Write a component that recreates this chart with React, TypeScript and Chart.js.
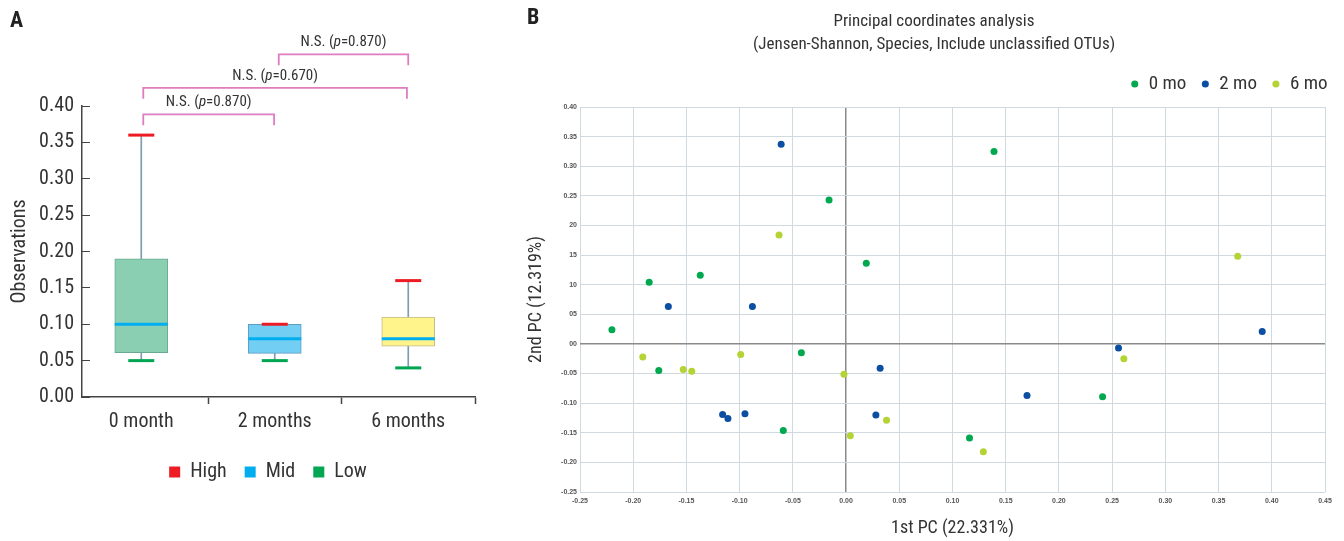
import React, { useEffect, useRef } from 'react';
import { Chart, registerables } from 'chart.js';

Chart.register(...registerables);

const FONT = "'Liberation Sans Narrow', 'Roboto Condensed', 'DejaVu Sans Condensed', 'Liberation Sans', sans-serif";

// ---------- Panel A data ----------
const categories = ['0 month', '2 months', '6 months'];
const lowValues = [0.05, 0.05, 0.04];
const q1Values = [0.061, 0.06, 0.07];
const medianValues = [0.10, 0.08, 0.08];
const q3Values = [0.19, 0.10, 0.11];
const highValues = [0.36, 0.10, 0.16];
const yTicksA = [0, 0.05, 0.1, 0.15, 0.2, 0.25, 0.3, 0.35, 0.4];
const xTicksA = [0, 0.5, 1, 1.5, 2, 2.5];
const bracketFrom = [0.015, 0.015, 1.03];
const bracketTo = [0.995, 1.99, 2.0];
const bracketLevel = [0.3885, 0.425, 0.471];
const bracketP = ['0.870', '0.670', '0.870'];

// ---------- Panel B data ----------
const mo0X = [-0.220, -0.185, -0.137, -0.176, -0.042, -0.059, -0.016, 0.019, 0.139, 0.116, 0.241];
const mo0Y = [0.024, 0.104, 0.116, -0.045, -0.015, -0.146, 0.243, 0.136, 0.325, -0.159, -0.089];
const mo2X = [-0.061, -0.167, -0.088, -0.116, -0.111, -0.095, 0.032, 0.028, 0.170, 0.256, 0.391];
const mo2Y = [0.337, 0.063, 0.063, -0.119, -0.126, -0.118, -0.041, -0.120, -0.087, -0.007, 0.021];
const mo6X = [-0.063, -0.191, -0.153, -0.145, -0.099, -0.002, 0.004, 0.038, 0.129, 0.261, 0.368];
const mo6Y = [0.184, -0.022, -0.043, -0.046, -0.018, -0.051, -0.155, -0.129, -0.182, -0.025, 0.148];
const xTickValuesB = [-0.25, -0.2, -0.15, -0.1, -0.05, 0, 0.05, 0.1, 0.15, 0.2, 0.25, 0.3, 0.35, 0.4, 0.45];
const xTickLabelsB = ['-0.25', '-0.20', '-0.15', '-0.10', '-0.05', '0.00', '0.05', '0.10', '0.15', '0.20', '0.25', '0.30', '0.35', '0.40', '0.45'];
const yTickValuesB = [-0.25, -0.2, -0.15, -0.1, -0.05, 0, 0.05, 0.1, 0.15, 0.2, 0.25, 0.3, 0.35, 0.4];
const yTickLabelsB = ['-0.25', '-0.20', '-0.15', '-0.10', '-0.05', '00', '05', '10', '15', '20', '0.25', '0.30', '0.35', '0.40'];
const titleB = ['Principal coordinates analysis', '(Jensen-Shannon, Species, Include unclassified OTUs)'];

const HIGH = '#ED1C24';
const MID = '#00AEEF';
const LOW = '#00A651';
const boxFills = ['#8ACFB2', '#72CEF3', '#FFF48C'];
const boxBorders = ['#6aa991', '#5f9cc0', '#c2bb8a'];
const WHISKER = '#7d9db3';
const PINK = '#e07cc0';
const C0 = '#00A84F';
const C2 = '#0B4EA2';
const C6 = '#B4D335';
const GRID = '#cfd9e0';
const ZERO = '#8a8a8a';

const bracketPlugin = {
  id: 'brackets',
  afterDraw(chart: any) {
    const { ctx } = chart;
    const x = chart.scales.x;
    const y = chart.scales.y;
    ctx.save();
    for (let i = 0; i < bracketFrom.length; i++) {
      const x1 = x.getPixelForValue(bracketFrom[i]);
      const x2 = x.getPixelForValue(bracketTo[i]);
      const yy = y.getPixelForValue(bracketLevel[i]);
      ctx.strokeStyle = PINK;
      ctx.lineWidth = 1.8;
      ctx.beginPath();
      ctx.moveTo(x1, yy + 11);
      ctx.lineTo(x1, yy);
      ctx.lineTo(x2, yy);
      ctx.lineTo(x2, yy + 11);
      ctx.stroke();
      const parts = [
        { t: 'N.S. (', f: `15px ${FONT}` },
        { t: 'p', f: `italic 15px ${FONT}` },
        { t: '=' + bracketP[i] + ')', f: `15px ${FONT}` },
      ];
      let total = 0;
      parts.forEach((p) => { ctx.font = p.f; total += ctx.measureText(p.t).width; });
      let cx = (x1 + x2) / 2 - total / 2;
      ctx.fillStyle = '#333';
      ctx.textBaseline = 'middle';
      parts.forEach((p) => {
        ctx.font = p.f;
        ctx.fillText(p.t, cx, yy - 12);
        cx += ctx.measureText(p.t).width;
      });
    }
    ctx.restore();
  },
};

function BoxPanel() {
  const ref = useRef<HTMLCanvasElement>(null);
  useEffect(() => {
    const capDs = (label: string, vals: number[], color: string, radius: number) => ({
      type: 'line',
      label,
      data: vals.map((v, i) => ({ x: i, y: v })),
      showLine: false,
      backgroundColor: color,
      borderColor: color,
      borderWidth: 0,
      pointStyle: 'line',
      pointRadius: radius,
      pointHoverRadius: radius,
      pointBorderColor: color,
      pointBorderWidth: 3,
      order: 0,
    });
    const chart = new Chart(ref.current as HTMLCanvasElement, {
      type: 'bar',
      data: {
        datasets: [
          capDs('High', highValues, HIGH, 13),
          capDs('Mid', medianValues, MID, 26.5),
          capDs('Low', lowValues, LOW, 13),
          {
            type: 'bar',
            label: 'box',
            data: q1Values.map((v, i) => ({ x: i, y: [v, q3Values[i]] })),
            backgroundColor: boxFills,
            borderColor: boxBorders,
            borderWidth: 1,
            borderSkipped: false,
            barThickness: 53,
            grouped: false,
            order: 1,
          },
          {
            type: 'bar',
            label: 'whisker',
            data: lowValues.map((v, i) => ({ x: i, y: [v, highValues[i]] })),
            backgroundColor: WHISKER,
            borderWidth: 0,
            barThickness: 1,
            grouped: false,
            order: 2,
          },
        ] as any,
      },
      options: {
        responsive: false,
        animation: false,
        events: [],
        layout: { padding: { top: 106, left: 0, right: 0, bottom: 8 } },
        plugins: {
          legend: {
            position: 'bottom',
            labels: {
              filter: (item: any) => ['High', 'Mid', 'Low'].includes(item.text),
              boxWidth: 11,
              boxHeight: 11,
              padding: 18,
              color: '#333',
              font: { family: FONT, size: 20 },
              generateLabels: (c: any) =>
                (Chart.defaults.plugins.legend.labels.generateLabels as any)(c).map((l: any) => ({ ...l, lineWidth: 0 })),
            },
          },
          tooltip: { enabled: false },
        },
        scales: {
          x: {
            type: 'linear',
            min: -0.444,
            max: 2.5,
            offset: false,
            afterBuildTicks: (s: any) => { s.ticks = xTicksA.map((v) => ({ value: v })); },
            afterFit: (s: any) => { s.height = 47; },
            grid: {
              offset: false,
              drawOnChartArea: false,
              drawTicks: true,
              tickLength: 7,
              tickWidth: 1.5,
              tickColor: (ctx: any) => (Number.isInteger(ctx.tick?.value) ? 'rgba(0,0,0,0)' : '#444'),
            },
            border: { display: true, color: '#444', width: 1.5 },
            ticks: {
              autoSkip: false,
              maxRotation: 0,
              padding: 6,
              color: '#333',
              font: { family: FONT, size: 20 },
              callback: (v: any) => (Number.isInteger(v) ? categories[v] : ''),
            },
          },
          y: {
            min: 0,
            max: 0.4,
            afterBuildTicks: (s: any) => { s.ticks = yTicksA.map((v) => ({ value: v })); },
            afterFit: (s: any) => { s.width = 82; },
            grid: { drawOnChartArea: false, drawTicks: true, tickLength: -8, tickColor: '#444' },
            border: { display: true, color: '#444', width: 1.5 },
            ticks: {
              padding: 16,
              color: '#333',
              font: { family: FONT, size: 20 },
              callback: (v: any) => Number(v).toFixed(2),
            },
            title: {
              display: true,
              text: 'Observations',
              color: '#333',
              font: { family: FONT, size: 20 },
              padding: { top: 8, bottom: 0 },
            },
          },
          yPad: {
            position: 'right',
            display: true,
            grid: { display: false },
            ticks: { display: false },
            border: { display: false },
            afterFit: (s: any) => { s.width = 61; },
          },
        },
      } as any,
      plugins: [bracketPlugin],
    });
    return () => chart.destroy();
  }, []);
  return <canvas ref={ref} width={536} height={500} style={{ position: 'absolute', left: 0, top: 0 }} />;
}

function PcoaPanel() {
  const ref = useRef<HTMLCanvasElement>(null);
  useEffect(() => {
    const ds = (label: string, xs: number[], ys: number[], color: string) => ({
      label,
      data: xs.map((x, i) => ({ x, y: ys[i] })),
      backgroundColor: color,
      borderColor: color,
      borderWidth: 0,
      pointStyle: 'circle',
      pointRadius: 3.5,
      pointHoverRadius: 3.5,
    });
    const gridColor = (ctx: any) => (ctx.tick && ctx.tick.value === 0 ? ZERO : GRID);
    const gridWidth = (ctx: any) => (ctx.tick && ctx.tick.value === 0 ? 1.5 : 1);
    const chart = new Chart(ref.current as HTMLCanvasElement, {
      type: 'scatter',
      data: {
        datasets: [ds('0 mo', mo0X, mo0Y, C0), ds('2 mo', mo2X, mo2Y, C2), ds('6 mo', mo6X, mo6Y, C6)] as any,
      },
      options: {
        responsive: false,
        animation: false,
        events: [],
        layout: { padding: 0 },
        plugins: {
          title: {
            display: true,
            text: titleB,
            color: '#333',
            font: { family: FONT, size: 17, weight: 'normal', lineHeight: 23 / 17 },
            padding: { top: 10.5, bottom: 3.5 },
          },
          legend: {
            position: 'top',
            align: 'end',
            labels: {
              usePointStyle: true,
              pointStyle: 'circle',
              boxWidth: 9,
              boxHeight: 5,
              padding: 14.5,
              color: '#333',
              font: { family: FONT, size: 19 },
            },
          },
          tooltip: { enabled: false },
        },
        scales: {
          x: {
            type: 'linear',
            min: -0.25,
            max: 0.45,
            afterBuildTicks: (s: any) => { s.ticks = xTickValuesB.map((v) => ({ value: v })); },
            afterFit: (s: any) => { s.height = 49; },
            grid: { color: gridColor, lineWidth: gridWidth, drawTicks: false },
            border: { display: false },
            ticks: {
              autoSkip: false,
              maxRotation: 0,
              padding: 5,
              color: '#555',
              font: { family: "'Liberation Sans', Arial, sans-serif", size: 7, weight: 'bold' },
              callback: (_v: any, i: number) => xTickLabelsB[i],
            },
            title: {
              display: true,
              text: '1st PC (22.331%)',
              color: '#333',
              font: { family: FONT, size: 18 },
              padding: { top: 0, bottom: 2 },
            },
          },
          y: {
            type: 'linear',
            min: -0.25,
            max: 0.4,
            afterBuildTicks: (s: any) => { s.ticks = yTickValuesB.map((v) => ({ value: v })); },
            afterFit: (s: any) => { s.width = 54; },
            grid: { color: gridColor, lineWidth: gridWidth, drawTicks: false },
            border: { display: false },
            ticks: {
              autoSkip: false,
              padding: 3,
              color: '#555',
              font: { family: "'Liberation Sans', Arial, sans-serif", size: 7, weight: 'bold' },
              callback: (_v: any, i: number) => yTickLabelsB[i],
            },
            title: {
              display: true,
              text: '2nd PC (12.319%)',
              color: '#333',
              font: { family: FONT, size: 18 },
              padding: { top: 0, bottom: 0 },
            },
          },
          yPad: {
            position: 'right',
            display: true,
            grid: { display: false },
            ticks: { display: false },
            border: { display: false },
            afterFit: (s: any) => { s.width = 17; },
          },
          xPad: {
            position: 'top',
            display: true,
            grid: { display: false },
            ticks: { display: false },
            border: { display: false },
            afterFit: (s: any) => { s.height = 3.5; },
          },
        },
      } as any,
    });
    return () => chart.destroy();
  }, []);
  return <canvas ref={ref} width={816} height={541} style={{ position: 'absolute', left: 526, top: 0 }} />;
}

export default function App() {
  const letter: React.CSSProperties = {
    position: 'absolute',
    font: `bold 22px ${FONT}`,
    lineHeight: '22px',
    color: '#222',
    zIndex: 2,
  };
  return (
    <div style={{ position: 'absolute', left: 0, top: 0, width: 1344, height: 541, background: '#fff', overflow: 'hidden' }}>
      <BoxPanel />
      <PcoaPanel />
      <div style={{ ...letter, left: 10, top: 9 }}>A</div>
      <div style={{ ...letter, left: 527, top: 6 }}>B</div>
    </div>
  );
}
